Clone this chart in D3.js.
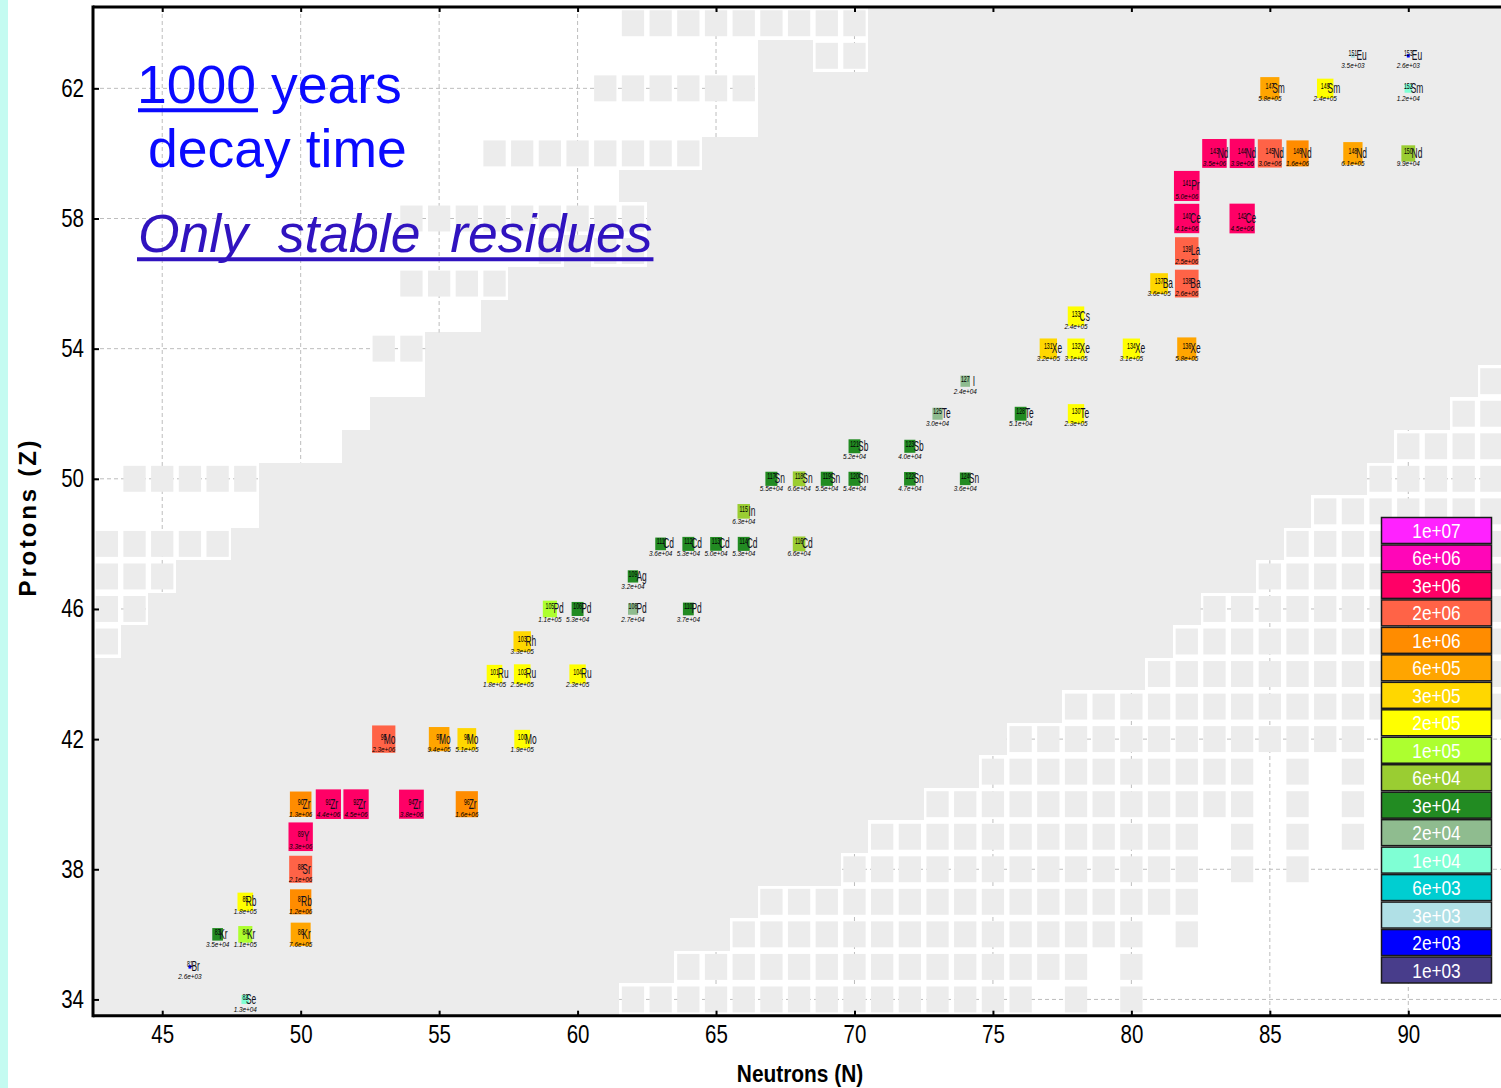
<!DOCTYPE html>
<html>
<head>
<meta charset="utf-8">
<script src="https://cdn.jsdelivr.net/npm/d3@7"></script>
<style>
  body { margin: 0; background: #fff; }
  svg { display: block; }
  text { font-family: "Liberation Sans", Arial, sans-serif; }
</style>
</head>
<body>
<svg id="chart" width="1501" height="1088"></svg>
<script>
// ---- axis ticks ----
const nTicks = [45, 50, 55, 60, 65, 70, 75, 80, 85, 90];
const zTicks = [34, 38, 42, 46, 50, 54, 58, 62];

// ---- palette: legend labels (top to bottom) and their colours ----
const legendLabels = ["1e+07", "6e+06", "3e+06", "2e+06", "1e+06", "6e+05", "3e+05", "2e+05",
  "1e+05", "6e+04", "3e+04", "2e+04", "1e+04", "6e+03", "3e+03", "2e+03", "1e+03"];
const legendColors = ["#ff22ff", "#ff06b8", "#ff0066", "#ff6347", "#ff8c00", "#ffa500", "#ffd700", "#ffff00",
  "#adff2f", "#9acd32", "#228b22", "#8fbc8f", "#7fffd4", "#00ced1", "#b0e0e6", "#0000ff", "#483d8b"];
// contour edges between the colour bins (ascending)
const contourEdges = [1.78e3, 3.16e3, 5.62e3, 1e4, 1.78e4, 3.16e4, 5.62e4, 1e5,
  1.78e5, 3.16e5, 5.62e5, 1e6, 1.78e6, 3.16e6, 5.62e6, 1e7];

// ---- stable residues: [symbol, Z, N, yield] ----
const nuclides = [
  ["Se", 34, 48, 1.3e4],
  ["Br", 35, 46, 2.6e3],
  ["Kr", 36, 47, 3.5e4], ["Kr", 36, 48, 1.1e5], ["Kr", 36, 50, 7.6e5],
  ["Rb", 37, 48, 1.8e5], ["Rb", 37, 50, 1.2e6],
  ["Sr", 38, 50, 2.1e6],
  ["Y", 39, 50, 3.3e6],
  ["Zr", 40, 50, 1.3e6], ["Zr", 40, 51, 4.4e6], ["Zr", 40, 52, 4.5e6], ["Zr", 40, 54, 3.8e6], ["Zr", 40, 56, 1.6e6],
  ["Mo", 42, 53, 2.3e6], ["Mo", 42, 55, 9.4e5], ["Mo", 42, 56, 5.1e5], ["Mo", 42, 58, 1.9e5],
  ["Ru", 44, 57, 1.8e5], ["Ru", 44, 58, 2.5e5], ["Ru", 44, 60, 2.3e5],
  ["Rh", 45, 58, 3.3e5],
  ["Pd", 46, 59, 1.1e5], ["Pd", 46, 60, 5.3e4], ["Pd", 46, 62, 2.7e4], ["Pd", 46, 64, 3.7e4],
  ["Ag", 47, 62, 3.2e4],
  ["Cd", 48, 63, 3.6e4], ["Cd", 48, 64, 5.3e4], ["Cd", 48, 65, 5.0e4], ["Cd", 48, 66, 5.3e4], ["Cd", 48, 68, 6.6e4],
  ["In", 49, 66, 6.3e4],
  ["Sn", 50, 67, 5.5e4], ["Sn", 50, 68, 6.6e4], ["Sn", 50, 69, 5.5e4], ["Sn", 50, 70, 5.4e4], ["Sn", 50, 72, 4.7e4], ["Sn", 50, 74, 3.6e4],
  ["Sb", 51, 70, 5.2e4], ["Sb", 51, 72, 4.0e4],
  ["Te", 52, 73, 3.0e4], ["Te", 52, 76, 5.1e4], ["Te", 52, 78, 2.3e5],
  ["I", 53, 74, 2.4e4],
  ["Xe", 54, 77, 3.2e5], ["Xe", 54, 78, 3.1e5], ["Xe", 54, 80, 3.1e5], ["Xe", 54, 82, 5.8e5],
  ["Cs", 55, 78, 2.4e5],
  ["Ba", 56, 81, 3.6e5], ["Ba", 56, 82, 2.6e6],
  ["La", 57, 82, 2.5e6],
  ["Ce", 58, 82, 4.1e6], ["Ce", 58, 84, 4.5e6],
  ["Pr", 59, 82, 5.0e6],
  ["Nd", 60, 83, 3.5e6], ["Nd", 60, 84, 3.9e6], ["Nd", 60, 85, 3.0e6], ["Nd", 60, 86, 1.6e6], ["Nd", 60, 88, 6.1e5], ["Nd", 60, 90, 9.9e4],
  ["Sm", 62, 85, 5.8e5], ["Sm", 62, 87, 2.4e5], ["Sm", 62, 90, 1.2e4],
  ["Eu", 63, 88, 3.5e3], ["Eu", 63, 90, 2.6e3]
];

// ---- cells outside the computed region: [Z, firstN, lastN] ----
const whiteSpans = [
  [64, 43, 70], [63, 43, 66], [63, 69, 70], [62, 43, 66], [61, 43, 66], [60, 43, 64], [59, 43, 61],
  [58, 43, 62], [57, 43, 59], [57, 61, 62], [56, 43, 57], [55, 43, 56], [54, 43, 54], [53, 43, 54],
  [52, 43, 52], [51, 43, 51], [50, 43, 48], [49, 43, 48], [48, 43, 47], [47, 43, 45], [46, 43, 44], [45, 43, 43],
  [53, 93, 93], [52, 92, 93], [51, 90, 93], [50, 89, 93], [49, 87, 93], [48, 86, 93], [47, 85, 93],
  [46, 83, 93], [45, 82, 93], [44, 81, 93], [43, 78, 93], [42, 76, 93], [41, 75, 93], [40, 73, 93],
  [39, 71, 93], [38, 70, 93], [37, 67, 93], [36, 66, 93], [35, 64, 93], [34, 62, 93]
];
// known-nuclide tiles inside those cells: [Z, firstN, lastN]
const tileRuns = [
  [64, 62, 70], [63, 69, 70], [62, 61, 66], [60, 57, 64], [58, 54, 62], [57, 59, 59], [57, 61, 62],
  [56, 54, 57], [54, 53, 54], [50, 44, 48], [48, 43, 47], [47, 43, 45], [46, 43, 44], [45, 43, 43],
  [53, 93, 93], [52, 92, 93], [51, 90, 93], [50, 89, 93], [49, 87, 93], [48, 86, 93], [47, 85, 93],
  [46, 83, 93], [45, 82, 93], [44, 81, 93], [43, 78, 93],
  [42, 76, 88], [41, 75, 84], [41, 86, 86], [41, 88, 88], [40, 73, 84], [40, 86, 86], [40, 88, 88],
  [39, 71, 82], [39, 84, 84], [39, 86, 86], [39, 88, 88], [38, 70, 82], [38, 84, 84], [38, 86, 86],
  [37, 67, 82], [36, 66, 80], [36, 82, 82], [35, 64, 78], [35, 80, 80], [34, 62, 76], [34, 78, 78], [34, 80, 80]
];

// ---------------------------------------------------------------
const W = 1501, H = 1088;
const svg = d3.select("#chart");
const P = { left: 93, top: 7, right: 1505.2, bottom: 1015.7 };

const x = d3.scaleLinear().domain([42.5, 93.5]).range([P.left, P.right]);
const y = d3.scaleLinear().domain([33.5, 64.5]).range([P.bottom, P.top]);
const cw = x(1) - x(0), ch = y(0) - y(1);

const color = d3.scaleThreshold().domain(contourEdges).range(legendColors.slice().reverse());
const boxFrac = d3.scaleLog().domain([1e3, 1e7]).range([0, 1]).clamp(true);
const fmtVal = v => v.toExponential(1).replace(/e([+-])(\d)$/, "e$10$2");

svg.append("rect").attr("width", W).attr("height", H).attr("fill", "#fff");
svg.append("rect").attr("x", 0).attr("y", 0).attr("width", 8).attr("height", H).attr("fill", "#c4fbf1");

const defs = svg.append("defs");
defs.append("clipPath").attr("id", "plotClip").append("rect")
  .attr("x", P.left).attr("y", P.top).attr("width", P.right - P.left).attr("height", P.bottom - P.top);
defs.append("clipPath").attr("id", "whiteClip").selectAll("rect").data(whiteSpans).join("rect")
  .attr("x", d => x(d[1] - 0.5)).attr("y", d => y(d[0] + 0.5))
  .attr("width", d => x(d[2] + 0.5) - x(d[1] - 0.5)).attr("height", ch);

const plot = svg.append("g").attr("clip-path", "url(#plotClip)");

// computed region background
plot.append("rect").attr("x", P.left).attr("y", P.top)
  .attr("width", P.right - P.left).attr("height", P.bottom - P.top).attr("fill", "#ececec");

// cells outside the computed region
plot.append("g").attr("shape-rendering", "crispEdges")
  .selectAll("rect").data(whiteSpans).join("rect")
  .attr("x", d => x(d[1] - 0.5)).attr("y", d => y(d[0] + 0.5))
  .attr("width", d => x(d[2] + 0.5) - x(d[1] - 0.5)).attr("height", ch)
  .attr("fill", "#fff");

// dashed grid, visible only over the white cells
const grid = plot.append("g").attr("clip-path", "url(#whiteClip)")
  .attr("stroke", "#bdbdbd").attr("stroke-width", 1).attr("stroke-dasharray", "4,3");
grid.selectAll("line.v").data(nTicks).join("line").attr("class", "v")
  .attr("x1", d => x(d)).attr("x2", d => x(d)).attr("y1", P.top).attr("y2", P.bottom);
grid.selectAll("line.h").data(zTicks).join("line").attr("class", "h")
  .attr("y1", d => y(d)).attr("y2", d => y(d)).attr("x1", P.left).attr("x2", P.right);

// tiles
const tiles = tileRuns.flatMap(([z, a, b]) => d3.range(a, b + 1).map(n => ({ z, n })));
const tw = cw - 5.4, th = ch - 6.6;
plot.append("g").selectAll("rect").data(tiles).join("rect")
  .attr("x", d => x(d.n) - tw / 2).attr("y", d => y(d.z) - th / 2)
  .attr("width", tw).attr("height", th).attr("fill", "#ececec");

// yield boxes, side scaled with log(yield)
const iso = nuclides.map(([sym, z, n, v]) => ({ sym, z, n, v, a: z + n }));
plot.append("g").selectAll("rect").data(iso).join("rect")
  .attr("x", d => x(d.n) - cw * boxFrac(d.v) / 2)
  .attr("y", d => y(d.z) - ch * boxFrac(d.v) / 2)
  .attr("width", d => cw * boxFrac(d.v))
  .attr("height", d => ch * boxFrac(d.v))
  .attr("fill", d => color(d.v));

// labels
const lab = plot.append("g").selectAll("g").data(iso).join("g")
  .attr("transform", d => `translate(${x(d.n)},${y(d.z)})`);
const nameText = lab.append("text").attr("transform", "scale(0.58,1)")
  .attr("text-anchor", "middle").attr("fill", "#000");
nameText.append("tspan").attr("y", 0.5).attr("font-size", 9).text(d => d.a);
nameText.append("tspan").attr("y", 4.4).attr("font-size", 14.5).attr("fill", "#101020").text(d => d.sym);
lab.append("text").attr("transform", "scale(0.85,1)")
  .attr("text-anchor", "middle").attr("y", 12.6).attr("font-size", 7.5)
  .attr("font-style", "italic").attr("fill", "#000").text(d => fmtVal(d.v));

// frame
const frame = svg.append("g").attr("stroke", "#000").attr("stroke-width", 3);
frame.append("line").attr("x1", P.left).attr("x2", W).attr("y1", P.top).attr("y2", P.top);
frame.append("line").attr("x1", P.left).attr("x2", P.left).attr("y1", P.top - 1.5).attr("y2", P.bottom + 1.5);
frame.append("line").attr("x1", P.left).attr("x2", W).attr("y1", P.bottom).attr("y2", P.bottom);

// axes
const gx = svg.append("g").attr("transform", `translate(0,${P.bottom})`)
  .call(d3.axisBottom(x).tickValues(nTicks).tickSizeInner(-5).tickSizeOuter(0).tickPadding(9.5));
const gy = svg.append("g").attr("transform", `translate(${P.left},0)`)
  .call(d3.axisLeft(y).tickValues(zTicks).tickSizeInner(-6).tickSizeOuter(0).tickPadding(11));
const gt = svg.append("g").attr("transform", `translate(0,${P.top})`)
  .call(d3.axisTop(x).tickValues(nTicks).tickSizeInner(-5).tickSizeOuter(0).tickFormat(""));
[gx, gy, gt].forEach(g => {
  g.select(".domain").remove();
  g.selectAll(".tick line").attr("stroke", "#000").attr("stroke-width", 2);
  g.selectAll(".tick text").attr("font-size", 25).attr("fill", "#000")
    .attr("font-family", "'Liberation Sans', Arial, sans-serif")
    .attr("transform", "scale(0.82,1)");
});

// axis titles
svg.append("text").attr("transform", "translate(800,1082) scale(0.87,1)")
  .attr("text-anchor", "middle").attr("font-size", 24).attr("font-weight", "bold")
  .attr("fill", "#000").text("Neutrons (N)");
svg.append("text").attr("transform", "translate(36,517) rotate(-90)")
  .attr("text-anchor", "middle").attr("font-size", 24).attr("font-weight", "bold")
  .attr("letter-spacing", 2.8).attr("fill", "#000").text("Protons (Z)");

// colour legend
const LX = 1381.5, LY = 517.5, LW = 110, LS = 27.47;
const leg = svg.append("g").selectAll("g").data(legendLabels).join("g")
  .attr("transform", (d, i) => `translate(${LX},${LY + i * LS})`);
leg.append("rect").attr("width", LW).attr("height", LS - 1.5)
  .attr("fill", (d, i) => legendColors[i]).attr("stroke", "#1a1a1a").attr("stroke-width", 1.5);
leg.append("text").attr("transform", `translate(${LW / 2},${(LS - 1.5) / 2 + 7.5}) scale(0.82,1)`)
  .attr("text-anchor", "middle").attr("font-size", 21).attr("fill", "#fff").text(d => d);

// annotations
const blue = "#0a0aff", violet = "#3013bf";
const t1 = svg.append("text").attr("x", 137).attr("y", 103).attr("font-size", 53.5).attr("fill", blue);
const t1a = t1.append("tspan").text("1000");
t1.append("tspan").text(" years");
const w1000 = t1a.node().getComputedTextLength();
svg.append("line").attr("x1", 138).attr("x2", 137 + w1000 + 2).attr("y1", 110.3).attr("y2", 110.3)
  .attr("stroke", blue).attr("stroke-width", 4);
svg.append("text").attr("x", 148).attr("y", 167).attr("font-size", 53.5).attr("fill", blue).text("decay time");

const t3 = svg.append("text").attr("x", 138).attr("y", 252).attr("font-size", 53.5)
  .attr("font-style", "italic").attr("fill", violet).style("white-space", "pre")
  .text("Only  stable  residues");
const w3 = t3.node().getComputedTextLength();
svg.append("line").attr("x1", 137).attr("x2", 138 + w3 + 1).attr("y1", 259.3).attr("y2", 259.3)
  .attr("stroke", violet).attr("stroke-width", 4);
</script>
</body>
</html>
